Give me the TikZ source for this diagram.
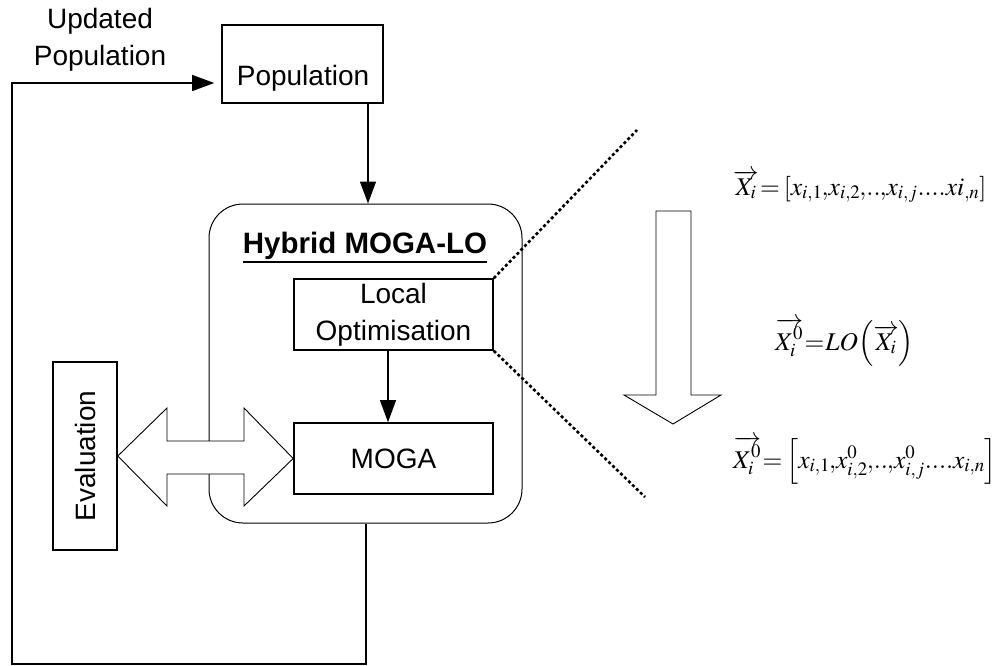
\documentclass[tikz,border=0pt]{standalone}
\usepackage{mathptmx}
\usepackage{fontspec}
\setmainfont{Liberation Sans}
\usetikzlibrary{arrows.meta}

% thick underline set close to the baseline
\newcommand\thickul[1]{\leavevmode\vtop{\hbox{#1}\kern1.5pt\hrule height 2pt}}
% tight operators and separators for the vector equations
\newcommand\tc{\mathord{\kern-1pt,}}
\newcommand\teq{\mathord{\kern1.5pt=\kern1pt}}
\newcommand\vecX[1]{\overrightarrow{X#1}}

\tikzset{
  box/.style={draw, line width=1.6pt, minimum width=199pt, minimum height=71pt,
              inner sep=0pt, align=center, font=\fontsize{28}{37}\selectfont},
  flow/.style={line width=1.3pt, -{Triangle[length=22pt,width=16pt]}},
  hollow/.style={draw, fill=white, line width=0.9pt, line join=miter},
  zoomline/.style={line width=2.6pt, dash pattern=on 3pt off 2.5pt},
  eqn/.style={anchor=base west, inner sep=0pt, font=\fontsize{25.5}{30}\selectfont},
}

\begin{document}
\begin{tikzpicture}[x=1pt,y=-1pt]
\useasboundingbox (0,0) rectangle (996,666);

% main blocks
\node[draw, line width=1.6pt, minimum width=161pt, minimum height=78pt, inner sep=0pt]
      (pop) at (302.5,64) {};
\node[anchor=base, inner sep=0pt, font=\fontsize{28}{37}\selectfont] (popt) at (303,86)
      {Population};
\node[draw, line width=1pt, rounded corners=34pt, minimum width=313pt, minimum height=319pt,
      inner sep=0pt] (hyb) at (365.5,363.5) {};
\node[anchor=base, inner sep=0pt, font=\fontsize{29.5}{34}\selectfont\bfseries] (hybt)
      at (365,253) {\thickul{Hybrid MOGA-LO}};
\node[box] (lo) at (393.5,314.5) {Local\\Optimisation};
\node[box] (moga) at (393.5,458.5) {MOGA};
\node[box, rotate=90, minimum width=188pt, minimum height=64pt] (eval) at (85,456) {Evaluation};

% label of the feedback loop
\node[align=center, inner sep=0pt, font=\fontsize{28}{37}\selectfont] (upd) at (100,40)
      {Updated\\Population};

% connectors
\draw[flow] (pop.south -| 368,0) -- (hyb.north -| 368,0);
\draw[flow] (lo.south -| 388,0) -- (moga.north -| 388,0);
\coordinate (loopa) at (366,664);
\coordinate (loopb) at (12,664);
\coordinate (loopc) at (12,83);
\draw[flow, shorten >=7pt] (hyb.south -| loopa) -- (loopa) -- (loopb) -- (loopc)
      -- (pop.west |- loopc);

% two-way exchange between evaluation and MOGA
\draw[hollow] (eval.south) -- (167,408) -- (167,441) -- (244,441) -- (244,408)
      -- (moga.west) -- (244,506) -- (244,474) -- (167,474) -- (167,506) -- cycle;

% zoom-in onto the local optimisation step
\coordinate (zt) at (637,130);
\coordinate (zb) at (645,497);
\draw[zoomline] (lo.north east) -- (zt);
\draw[zoomline] (lo.south east) -- (zb);

% big downward arrow
\draw[hollow] (656,211) -- (691,211) -- (691,395) -- (721,395) -- (673,424)
      -- (624,395) -- (656,395) -- cycle;

% equations
\node[eqn] (eq1) at (733,195)
  {$\vecX{_i}\teq\left[x_{i,1}\tc x_{i,2}\tc..\tc x_{i,j}....xi_{,n}\right]$};
\node[eqn] (eq2) at (775,350)
  {$\vecX{_i^0}\teq LO\!\left(\vecX{_i}\right)$};
\node[eqn] (eq3) at (733,468)
  {$\vecX{_i^0}\teq\left[x_{i,1}\tc x_{i,2}^0\tc..\tc x_{i,j}^0....x_{i,n}\right]$};
\end{tikzpicture}
\end{document}
